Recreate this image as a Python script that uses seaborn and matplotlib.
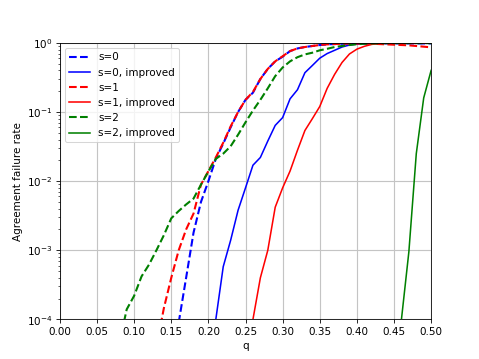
import numpy as np
import pandas as pd
import matplotlib
matplotlib.use("Agg")
import matplotlib.pyplot as plt
import seaborn as sns

# ---- data ----
q_s0 = [0.16, 0.17, 0.18, 0.19, 0.20, 0.21, 0.22, 0.23, 0.24, 0.25, 0.26, 0.27,
        0.28, 0.29, 0.30, 0.31, 0.32, 0.33, 0.34, 0.35, 0.36, 0.37, 0.38, 0.39,
        0.40, 0.41, 0.42, 0.43, 0.44, 0.45, 0.46, 0.47, 0.48, 0.49, 0.50]
v_s0 = [9e-5, 4e-4, 1.8e-3, 5e-3, 0.010, 0.021, 0.035, 0.060, 0.100, 0.150, 0.190, 0.300,
        0.420, 0.540, 0.630, 0.760, 0.830, 0.870, 0.900, 0.930, 0.950, 0.960, 0.970, 0.975,
        0.980, 0.980, 0.980, 0.980, 0.980, 0.980, 0.980, 0.980, 0.980, 0.980, 0.980]

q_s0i = [0.21, 0.22, 0.23, 0.24, 0.25, 0.26, 0.27, 0.28, 0.29, 0.30, 0.31, 0.32,
         0.33, 0.34, 0.35, 0.36, 0.37, 0.38, 0.39, 0.40, 0.41, 0.42, 0.43, 0.44,
         0.45, 0.46, 0.47, 0.48, 0.49, 0.50]
v_s0i = [1.0e-4, 5.8e-4, 1.4e-3, 3.8e-3, 8e-3, 0.017, 0.022, 0.038, 0.064, 0.083, 0.155, 0.21,
         0.37, 0.47, 0.60, 0.70, 0.78, 0.87, 0.93, 0.96, 0.975, 0.985, 0.99, 0.99,
         0.99, 0.99, 0.99, 0.99, 0.99, 0.99]

q_s1 = [0.13, 0.14, 0.15, 0.16, 0.17, 0.18, 0.19, 0.20, 0.21, 0.22, 0.23, 0.24,
        0.25, 0.26, 0.27, 0.28, 0.29, 0.30, 0.31, 0.32, 0.33, 0.34, 0.35, 0.36,
        0.37, 0.38, 0.39, 0.40, 0.41, 0.42, 0.43, 0.44, 0.45, 0.46, 0.47, 0.48,
        0.49, 0.50]
v_s1 = [4e-5, 1.45e-4, 4e-4, 1e-3, 2e-3, 3.4e-3, 8.9e-3, 0.014, 0.022, 0.036, 0.062, 0.100,
        0.150, 0.195, 0.300, 0.420, 0.540, 0.640, 0.760, 0.830, 0.870, 0.900, 0.930, 0.950,
        0.960, 0.970, 0.975, 0.975, 0.970, 0.970, 0.960, 0.950, 0.940, 0.930, 0.920, 0.900,
        0.880, 0.860]

q_s1i = [0.26, 0.27, 0.28, 0.29, 0.30, 0.31, 0.32, 0.33, 0.34, 0.35, 0.36, 0.37,
         0.38, 0.39, 0.40, 0.41, 0.42, 0.43, 0.44, 0.45, 0.46, 0.47, 0.48, 0.49, 0.50]
v_s1i = [1.0e-4, 4e-4, 1.0e-3, 4.2e-3, 8e-3, 0.014, 0.028, 0.054, 0.080, 0.120, 0.220, 0.350,
         0.520, 0.690, 0.810, 0.890, 0.950, 0.975, 0.985, 0.99, 0.99, 0.99, 0.99, 0.99, 0.99]

q_s2 = [0.08, 0.09, 0.10, 0.11, 0.12, 0.13, 0.14, 0.15, 0.16, 0.17, 0.18, 0.19,
        0.20, 0.21, 0.22, 0.23, 0.24, 0.25, 0.26, 0.27, 0.28, 0.29, 0.30, 0.31,
        0.32, 0.33, 0.34, 0.35, 0.36, 0.37, 0.38, 0.39, 0.40, 0.41, 0.42, 0.43,
        0.44, 0.45, 0.46, 0.47, 0.48, 0.49, 0.50]
v_s2 = [4.5e-5, 1.4e-4, 2.2e-4, 4.2e-4, 6.2e-4, 1.0e-3, 1.65e-3, 2.9e-3, 3.7e-3, 4.6e-3, 5.6e-3, 8.9e-3,
        0.0138, 0.021, 0.025, 0.032, 0.047, 0.071, 0.105, 0.150, 0.220, 0.330, 0.440, 0.540,
        0.620, 0.680, 0.720, 0.780, 0.820, 0.870, 0.900, 0.930, 0.955, 0.970, 0.980, 0.985,
        0.99, 0.99, 0.99, 0.99, 0.99, 0.99, 0.99]

q_s2i = [0.46, 0.47, 0.48, 0.49, 0.50]
v_s2i = [1.0e-4, 9.5e-4, 0.025, 0.16, 0.40]

series = [
    ("s=0", q_s0, v_s0, "blue", "--", 2.0),
    ("s=0, improved", q_s0i, v_s0i, "blue", "-", 1.5),
    ("s=1", q_s1, v_s1, "red", "--", 2.0),
    ("s=1, improved", q_s1i, v_s1i, "red", "-", 1.5),
    ("s=2", q_s2, v_s2, "green", "--", 2.0),
    ("s=2, improved", q_s2i, v_s2i, "green", "-", 1.5),
]

fig, ax = plt.subplots(figsize=(6.4, 4.8), dpi=74.85)

for label, qs, vs, color, ls, lw in series:
    df = pd.DataFrame({"q": qs, "rate": vs})
    sns.lineplot(data=df, x="q", y="rate", ax=ax, color=color, linestyle=ls,
                 linewidth=lw, label=label, sort=False, estimator=None)

ax.set_yscale("log")
ax.set_xlim(0.0, 0.5)
ax.set_ylim(1e-4, 1.0)
ax.set_xticks(np.arange(0, 0.501, 0.05))
ax.set_xticklabels([f"{t:.2f}" for t in np.arange(0, 0.501, 0.05)])
ax.grid(True, which="major", color="#c4c4c4", linewidth=1.1)
ax.set_axisbelow(True)
ax.set_xlabel("q")
ax.set_ylabel("Agreement failure rate")
ax.legend(loc="upper left")

fig.savefig("out.png", dpi=74.85)
